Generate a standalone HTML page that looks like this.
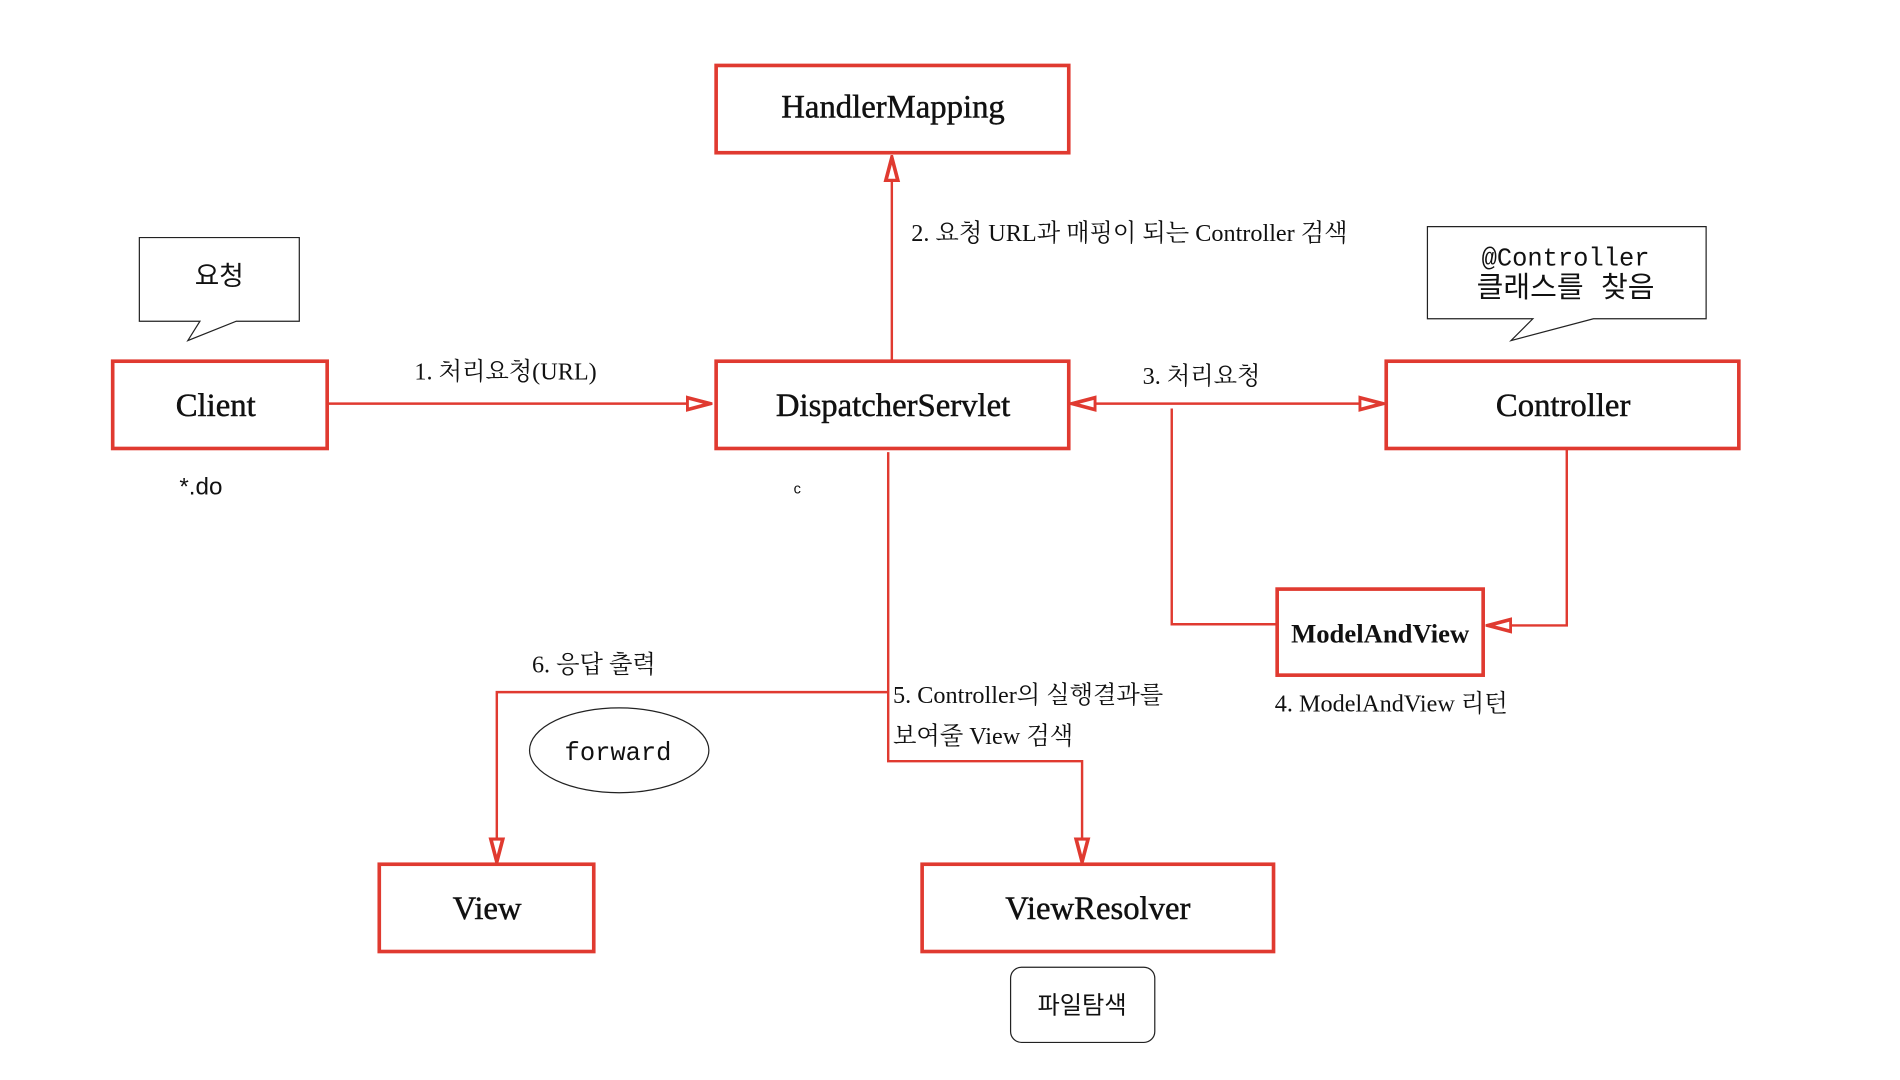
<!DOCTYPE html>
<html><head><meta charset="utf-8"><style>
html,body{margin:0;padding:0;background:#fff;}
svg{display:block;}
text{font-family:"Liberation Serif","Noto Serif CJK SC","Noto Sans CJK KR",serif;fill:#111;}
.b{font-size:27px;stroke:#111;stroke-width:0.4px;}
.l{font-size:20px;}
.m{font-family:"Liberation Mono","Noto Sans CJK KR",monospace;}
</style></head><body>
<svg width="1900" height="1080" viewBox="0 0 1568 891" preserveAspectRatio="none" xmlns="http://www.w3.org/2000/svg">
<defs>
<marker id="as" viewBox="0 0 22 14" refX="20" refY="7" markerWidth="22" markerHeight="14" markerUnits="userSpaceOnUse" orient="auto-start-reverse">
<path d="M1,2 L20,7 L1,12 Z" fill="#fff" stroke="#e03a30" stroke-width="3"/>
</marker>
</defs>
<g fill="#fff" stroke="#e03a30" stroke-width="3">
<rect x="591" y="54" width="291" height="72"/>
<rect x="93" y="298" width="177" height="72"/>
<rect x="591" y="298" width="291" height="72"/>
<rect x="1144" y="298" width="291" height="72"/>
<rect x="1054" y="486" width="170" height="71"/>
<rect x="313" y="713" width="177" height="72"/>
<rect x="761" y="713" width="290" height="72"/>
</g>
<g fill="none" stroke="#e03a30" stroke-width="2">
<line x1="270" y1="333" x2="586" y2="333" marker-end="url(#as)"/>
<line x1="736" y1="298" x2="736" y2="130" marker-end="url(#as)"/>
<line x1="885" y1="333" x2="1141" y2="333" marker-start="url(#as)" marker-end="url(#as)"/>
<polyline points="967,337 967,515 1054,515"/>
<polyline points="1293,370 1293,516 1228,516" marker-end="url(#as)"/>
<polyline points="733,373 733,628 893,628 893,711" marker-end="url(#as)"/>
<polyline points="733,571 410,571 410,711" marker-end="url(#as)"/>
</g>
<g fill="#fff" stroke="#222" stroke-width="1">
<path d="M115,196 H247 V265 H195 L155,281 L165,265 H115 Z"/>
<path d="M1178,187 H1408 V263 H1315 L1247,281 L1265,263 H1178 Z"/>
<ellipse cx="511" cy="619" rx="74" ry="35"/>
<rect x="834" y="798" width="119" height="62" rx="9"/>
</g>
<g text-anchor="middle">
<text class="b" x="737" y="97">HandlerMapping</text>
<text class="b" x="178" y="343">Client</text>
<text class="b" x="737" y="343">DispatcherServlet</text>
<text class="b" x="1290" y="343">Controller</text>
<text x="1139" y="530" style="font-size:22px;font-weight:bold">ModelAndView</text>
<text class="b" x="402" y="758">View</text>
<text class="b" x="906" y="758">ViewResolver</text>
<text x="181" y="235" style="font-size:22px;font-family:'Noto Sans CJK KR',sans-serif">요청</text>
<text class="m" x="1292" y="219" style="font-size:21px">@Controller</text>
<text class="m" x="1292" y="245" style="font-size:24px">클래스를 찾음</text>
<text class="m" x="510" y="627" style="font-size:21px">forward</text>
<text x="893" y="836" style="font-size:20px;font-family:'Noto Sans CJK KR',sans-serif">파일탐색</text>
</g>
<g class="l">
<text class="l" x="342" y="313">1. 처리요청(URL)</text>
<text class="l" x="752" y="199">2. 요청 URL과 매핑이 되는 Controller 검색</text>
<text class="l" x="943" y="317">3. 처리요청</text>
<text class="l" x="1052" y="587">4. ModelAndView 리턴</text>
<text class="l" x="737" y="580">5. Controller의 실행결과를</text>
<text class="l" x="737" y="614">보여줄 View 검색</text>
<text class="l" x="439" y="555">6. 응답 출력</text>
<text x="148" y="408" style="font-size:20px;font-family:'Liberation Sans',sans-serif">*.do</text>
<text x="655" y="407" style="font-size:12px;font-family:'Liberation Sans',sans-serif">c</text>
</g>
</svg>
</body></html>
